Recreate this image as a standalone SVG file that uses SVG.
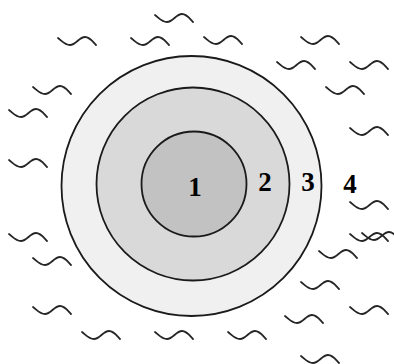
<svg xmlns="http://www.w3.org/2000/svg" xmlns:xlink="http://www.w3.org/1999/xlink" width="394" height="364" viewBox="0 0 394 364">
<style>
.ring{stroke:#1a1a1a;stroke-width:1.8}
.wave{fill:none;stroke:#262626;stroke-width:1.8;stroke-linecap:round}
.lbl{font-family:"Liberation Serif","Times New Roman",serif;font-weight:bold;font-size:27px;fill:#000;text-anchor:middle}
</style>
<defs>
<path id="w" class="wave" d="M0,1 C4,4 7,8 12,8 C18,8 21,0 27,0 C32,0 35,5 38,8"/>
</defs>
<rect width="394" height="364" fill="#fff"/>
<g id="layer3">
<circle class="ring" cx="191.5" cy="186" r="130" fill="#f0f0f0"/>
</g>
<g id="layer2">
<circle class="ring" cx="193" cy="184" r="96.5" fill="#d9d9d9"/>
</g>
<g id="layer1">
<circle class="ring" cx="194" cy="184" r="52.5" fill="#c2c2c2"/>
</g>
<g id="labels">
<text class="lbl" x="195" y="196">1</text>
<text class="lbl" x="265" y="191">2</text>
<text class="lbl" x="308" y="191">3</text>
<text class="lbl" x="350" y="193">4</text>
</g>
<g id="waves">
<use xlink:href="#w" x="155" y="14"/>
<use xlink:href="#w" x="58" y="37"/>
<use xlink:href="#w" x="131" y="37"/>
<use xlink:href="#w" x="204" y="36"/>
<use xlink:href="#w" x="301" y="36"/>
<use xlink:href="#w" x="277" y="61"/>
<use xlink:href="#w" x="350" y="61"/>
<use xlink:href="#w" x="33" y="86"/>
<use xlink:href="#w" x="326" y="86"/>
<use xlink:href="#w" x="9" y="109"/>
<use xlink:href="#w" x="350" y="127"/>
<use xlink:href="#w" x="9" y="159"/>
<use xlink:href="#w" x="350" y="201"/>
<use xlink:href="#w" x="350" y="233"/>
<use xlink:href="#w" x="362" y="232"/>
<use xlink:href="#w" x="9" y="233"/>
<use xlink:href="#w" x="319" y="250"/>
<use xlink:href="#w" x="33" y="257"/>
<use xlink:href="#w" x="301" y="281"/>
<use xlink:href="#w" x="33" y="306"/>
<use xlink:href="#w" x="350" y="306"/>
<use xlink:href="#w" x="285" y="315"/>
<use xlink:href="#w" x="82" y="331"/>
<use xlink:href="#w" x="155" y="331"/>
<use xlink:href="#w" x="228" y="331"/>
<use xlink:href="#w" x="301" y="355"/>
</g>
</svg>
